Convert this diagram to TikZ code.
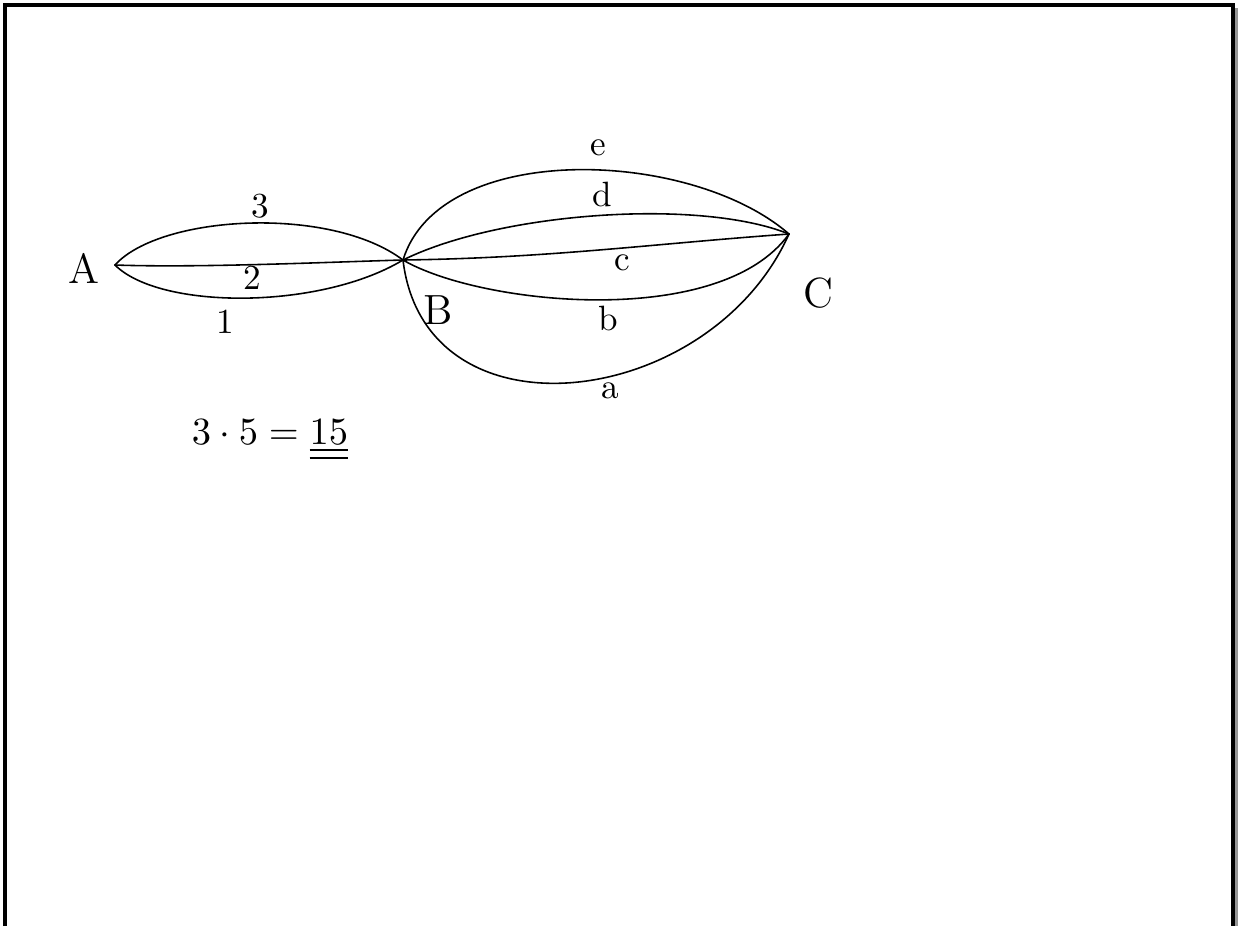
\documentclass[tikz,border=0pt]{standalone}
\usepackage{amsmath}
\usepackage{xcolor}
\usepackage{tikz}
\usetikzlibrary{positioning}
\definecolor{shadowgray}{RGB}{150,150,150}

\begin{document}
\begin{tikzpicture}[
    x=0.01cm, y=-0.01cm,
    edge/.style={line width=0.45pt, line cap=round},
    frame/.style={line width=0.9pt},
    lbl/.style={font=\normalsize, inner sep=1pt}
]
\useasboundingbox (0,0) rectangle (1238,926);

% page frame
\fill[shadowgray] (1234,8) rectangle (1238,926);
\draw[frame] (5,926) -- (5,5) -- (1233,5) -- (1233,926);

\coordinate (vA) at (115,265);
\coordinate (vB) at (403,260);
\coordinate (vC) at (789,234);

\node[lbl, font=\large] (labA) at (84,268) {A};
\node[lbl, font=\large] (labB) at (438,310) {B};
\node[lbl, font=\large] (labC) at (818,293) {C};

% A to B
\draw[edge] (vA) .. controls (160,215) and (330,205) .. (vB);
\draw[edge] (vA) .. controls (200,268) and (330,262) .. (vB);
\draw[edge] (vA) .. controls (160,310) and (320,310) .. (vB);

\node[lbl] (ab3) at (260,206) {3};
\node[lbl] (ab2) at (252,278) {2};
\node[lbl] (ab1) at (225,322) {1};

% B to C
\draw[edge] (vB) .. controls (440,140) and (690,148) .. (vC);
\draw[edge] (vB) .. controls (500,212) and (700,198) .. (vC);
\draw[edge] (vB) .. controls (550,258) and (650,244) .. (vC);
\draw[edge] (vB) .. controls (480,305) and (720,330) .. (vC);
\draw[edge] (vB) .. controls (425,445) and (710,410) .. (vC);

\node[lbl] (bce) at (598,148) {e};
\node[lbl] (bcd) at (602,194) {d};
\node[lbl] (bcc) at (622,263) {c};
\node[lbl] (bcb) at (608,318) {b};
\node[lbl] (bca) at (610,391) {a};

\node[lbl, font=\fontsize{11}{13}\selectfont] (count) at (270,440)
    {$3\cdot 5 = \underline{\underline{15}}$};

\end{tikzpicture}
\end{document}
